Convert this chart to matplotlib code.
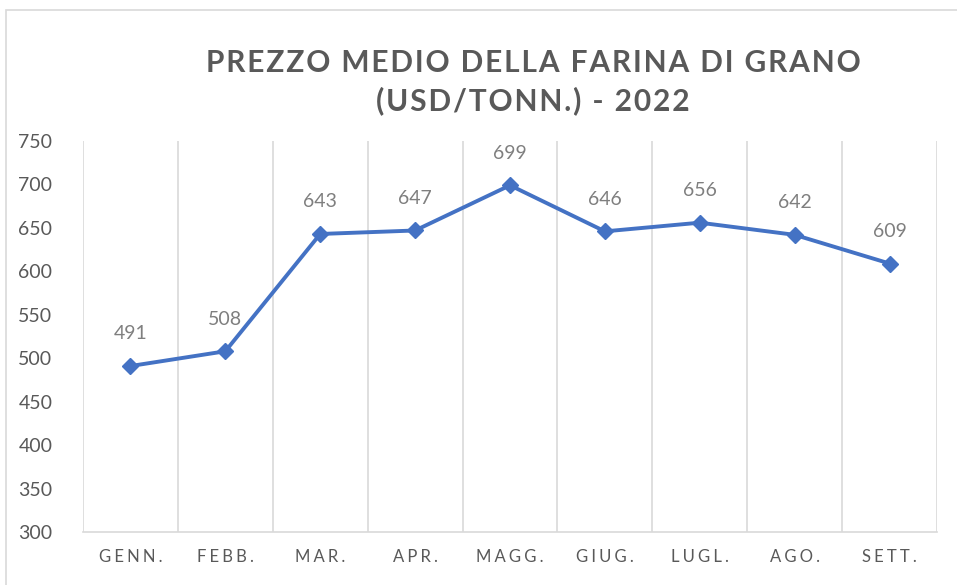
import matplotlib.pyplot as plt
from matplotlib.patches import Rectangle
import numpy as np

months = ['GENN.', 'FEBB.', 'MAR.', 'APR.', 'MAGG.', 'GIUG.', 'LUGL.', 'AGO.', 'SETT.']
prices = [491, 508, 643, 647, 699, 646, 656, 642, 609]
yticks = [300, 350, 400, 450, 500, 550, 600, 650, 700, 750]

title_lines = ['PREZZO MEDIO DELLA FARINA DI GRANO', '(USD/TONN.) - 2022']

BLUE = '#4472C4'
TEXT = '#595959'
GRID = '#D9D9D9'

plt.rcParams['font.family'] = ['Lato', 'DejaVu Sans']


def spaced(s, sep):
    # fake letter spacing, matplotlib has none
    return sep.join(s)


fig = plt.figure(figsize=(9.57, 5.85), dpi=100)
# chart frame like Excel's
fig.patches.append(Rectangle((6 / 957, -0.1), 1.2, 1 - 10 / 585 + 0.1,
                             transform=fig.transFigure, fill=False,
                             edgecolor=GRID, linewidth=1.2))

ax = fig.add_axes([83 / 957, 1 - 532 / 585, (937 - 83) / 957, (532 - 141) / 585])
x = np.arange(len(months))
ax.plot(x, prices, color=BLUE, linewidth=2.8, marker='D', markersize=8, zorder=3)
for xi, v in zip(x, prices):
    ax.annotate(str(v), (xi, v), xytext=(0, 17), textcoords='offset points',
                ha='center', va='bottom', fontsize=14, color='#7F7F7F')

ax.set_xlim(-0.5, len(months) - 0.5)
ax.set_ylim(300, 750)
ax.set_yticks(yticks)
ax.set_yticklabels([str(t) for t in yticks], fontsize=14, color=TEXT)
ax.set_xticks(x)
ax.set_xticklabels([spaced(m, '\u2009\u200a') for m in months], fontsize=12, color=TEXT)
for b in np.arange(-0.5, len(months), 1.0):
    ax.axvline(b, color=GRID, linewidth=1.2, zorder=1)
for s in ['top', 'right', 'left']:
    ax.spines[s].set_visible(False)
ax.spines['bottom'].set_color(GRID)
ax.spines['bottom'].set_linewidth(1.2)
ax.tick_params(length=0)
ax.tick_params(axis='x', pad=12)
ax.tick_params(axis='y', pad=22)

for line, ypix in zip(title_lines, [63, 101]):
    fig.text(533 / 957, 1 - ypix / 585, spaced(line, '\u200a'),
             ha='center', va='center', fontsize=21.5, fontweight='bold', color=TEXT)

fig.savefig('out.png', dpi=100)
